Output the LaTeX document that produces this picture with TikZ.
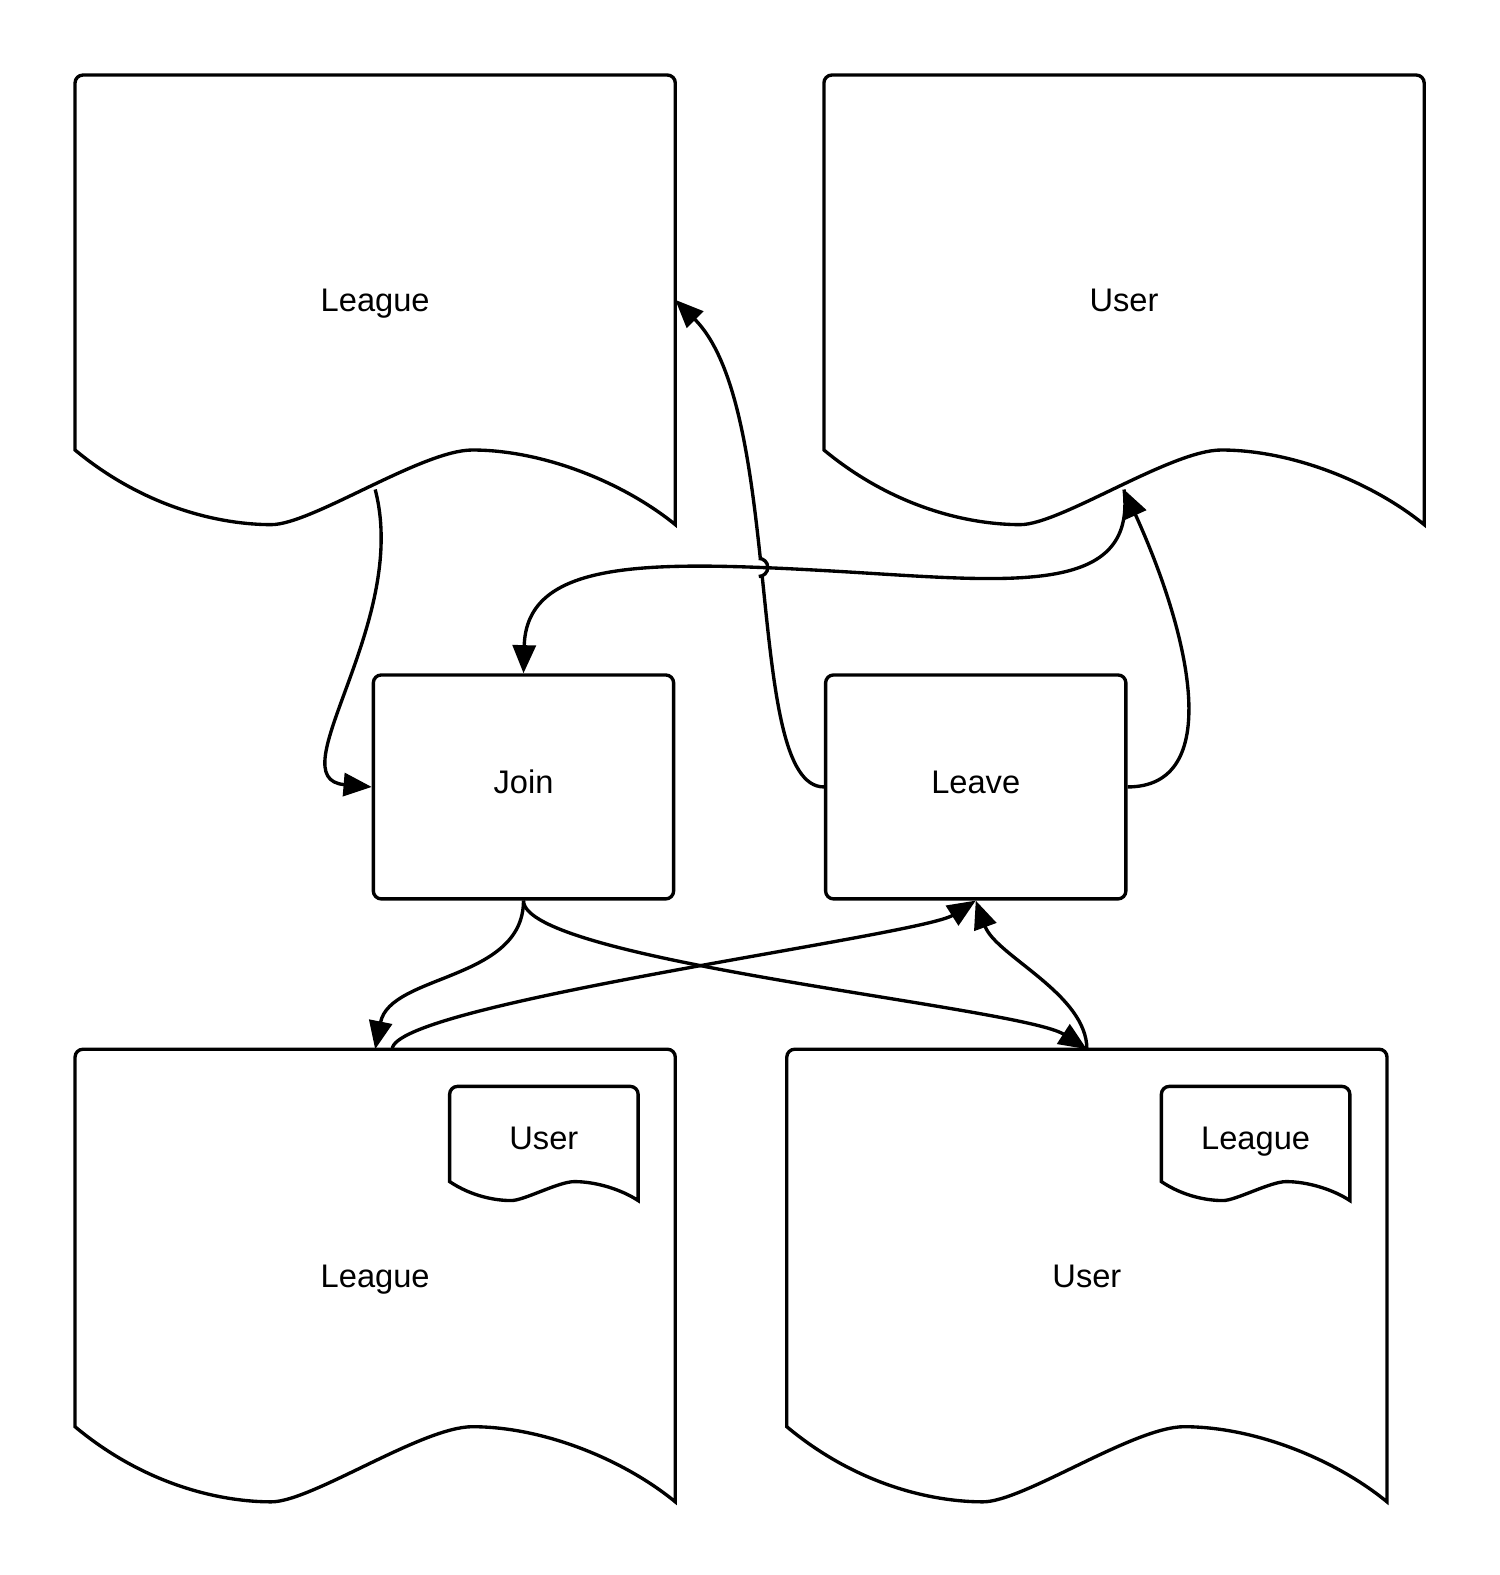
\documentclass[tikz,border=0pt]{standalone}
\usepackage{fontspec}
\setmainfont{Liberation Sans}
\usetikzlibrary{positioning, calc, arrows.meta, intersections}

\tikzset{
	doc/.style={minimum width=11.94cm, minimum height=8.94cm, inner sep=0pt},
	subdoc/.style={minimum width=3.74cm, minimum height=2.26cm, inner sep=0pt, text depth=6.2pt},
	action/.style={draw, line width=1.9pt, rounded corners=4.5pt, minimum width=5.98cm, minimum height=4.46cm, text depth=6.2pt},
	outline/.style={line width=1.9pt},
	link/.style={line width=1.9pt, -{Triangle[length=0.56cm, width=0.46cm]}},
}

\newcommand\docoutline[1]{%
	\draw[outline] let \p1=(#1.south west), \p2=(#1.north east),
		\n1={\x2-\x1}, \n2={0.166*(\y2-\y1)} in
		(\x2,\y1) .. controls (\x1+0.913*\n1,\y1+0.57*\n2) and (\x1+0.779*\n1,\y1+\n2) .. (\x1+0.662*\n1,\y1+\n2)
		.. controls (\x1+0.578*\n1,\y1+\n2) and (\x1+0.394*\n1,\y1) .. (\x1+0.327*\n1,\y1)
		.. controls (\x1+0.243*\n1,\y1) and (\x1+0.117*\n1,\y1+0.22*\n2) .. (\x1,\y1+\n2)
		-- (\x1,\y2-4.5pt) arc[start angle=180, end angle=90, radius=4.5pt]
		-- (\x2-4.5pt,\y2) arc[start angle=90, end angle=0, radius=4.5pt] -- cycle;}

\begin{document}
\begin{tikzpicture}[x=0.02cm, y=-0.02cm, font=\fontsize{18.5}{22}\selectfont,
	every node/.append style={text height=13.2pt}]
	\useasboundingbox (0,0) rectangle (1493,1568);

	\node[doc, text depth=0pt] (lgtop) at (373.5,298.5) {League};
	\node[doc, text depth=0pt, right=2.96cm of lgtop] (ustop) {User};
	\node[action, below left=2.96cm and 0cm of lgtop.south east] (join) {Join};
	\node[action, below right=2.96cm and 0cm of ustop.south west] (leave) {Leave};
	\node[doc, text depth=0pt, minimum height=9cm, below left=2.96cm and 0cm of join.south east] (lgbot) {League};
	\node[doc, text depth=0pt, minimum height=9cm, right=2.22cm of lgbot] (usbot) {User};
	\node[subdoc, below left=0.74cm and 0.74cm of lgbot.north east] (usin) {User};
	\node[subdoc, below left=0.74cm and 0.74cm of usbot.north east] (lgin) {League};

	\foreach \d in {lgtop, ustop, lgbot, usbot, usin, lgin}
		\docoutline{\d};

	\coordinate (lgtopw) at ([yshift=0.7cm]lgtop.south);
	\coordinate (ustopw) at ([yshift=0.7cm]ustop.south);
	\coordinate (bend) at (820,568);

	\draw[link] (lgtopw) .. controls +(35,133) and +(-95,-8) .. (join.west);
	\draw[link] (leave.east) .. controls +(95,0) and +(68,150) .. (ustopw);
	\draw[link, name path=back] (leave.west) .. controls +(-80,0) and +(110,110) .. (lgtop.east);

	% line hop where the two long links cross
	\path[name path=fetch] (ustopw) .. controls +(13,110) and +(180,10) .. (bend)
		.. controls +(-180,-10) and +(3,-112) .. (join.north);
	\fill[white, name intersections={of=back and fetch, by=hop}] (hop) circle (0.18cm);
	\draw[link] (ustopw) .. controls +(13,110) and +(180,10) .. (bend)
		.. controls +(-180,-10) and +(3,-112) .. (join.north);
	\draw[outline] ([yshift=-0.18cm]hop) arc[start angle=-90, end angle=90, radius=0.18cm];

	\draw[link] (join.south) .. controls +(0,80) and +(15,-75) .. (lgbot.north);
	\draw[link] (join.south) .. controls +(0,60) and +(-65,-42) .. (usbot.north);
	\draw[link] ([xshift=0.34cm]lgbot.north) .. controls +(0,-45) and +(-55,35) .. (leave.south);
	\draw[link] (usbot.north) .. controls +(0,-55) and +(20,55) .. (leave.south);
\end{tikzpicture}
\end{document}
